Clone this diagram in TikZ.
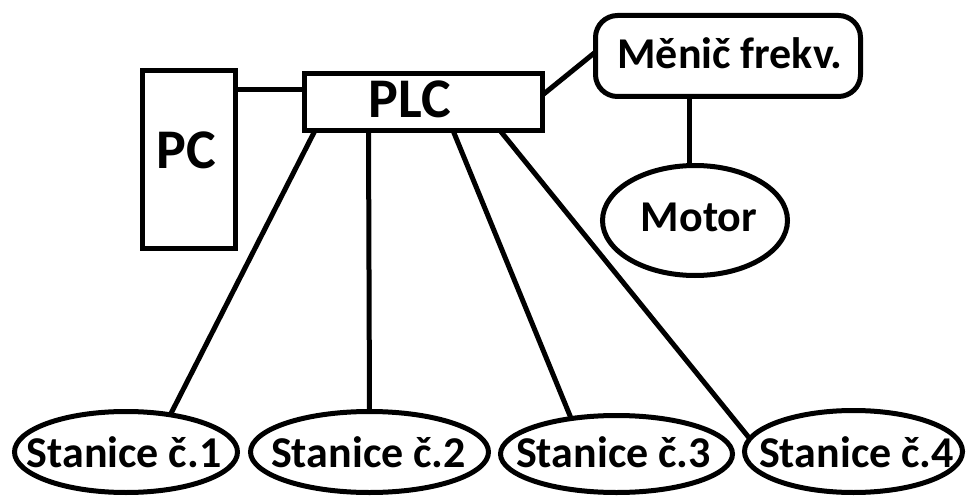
\documentclass[tikz,border=0pt]{standalone}
\usepackage{fontspec}
\setmainfont{Carlito}
\usetikzlibrary{shapes.geometric}
\begin{document}
\begin{tikzpicture}[x=1pt, y=-1pt,
  every node/.style={inner sep=0pt, outer sep=0pt},
  frame/.style={draw, line width=5pt, rectangle},
  roundframe/.style={frame, rounded corners=22pt},
  oval/.style={draw, line width=5pt, ellipse},
  caption/.style={anchor=base, font=\bfseries\fontsize{44}{50}\selectfont},
  bigcaption/.style={anchor=base, font=\bfseries\fontsize{56}{62}\selectfont},
  wire/.style={line width=5pt}]

% canvas
\fill[white] (0,0) rectangle (966,497);
\useasboundingbox (0,0) rectangle (966,497);

% boxes
\node[frame, minimum width=92.5pt, minimum height=177pt] (pc) at (188.75,159.5) {};
\node[frame, minimum width=238pt, minimum height=57pt] (plc) at (423.5,102) {};
\node[roundframe, minimum width=265pt, minimum height=81pt] (men) at (728,56) {};
\node[oval, minimum width=185pt, minimum height=110pt] (mot) at (695,220.5) {};

% stations
\node[oval, minimum width=223pt, minimum height=81pt] (st1) at (126,452) {};
\node[oval, minimum width=238pt, minimum height=81pt] (st2) at (369.5,452) {};
\node[oval, minimum width=232pt, minimum height=77pt] (st3) at (616.5,454) {};
\node[oval, minimum width=218pt, minimum height=82pt] (st4) at (853.5,451.5) {};

% labels (placed by baseline)
\node[bigcaption] (pctext) at (186,169) {PC};
\node[bigcaption] (plctext) at (410,118) {PLC};
\node[caption] (mentext) at (730,69) {Měnič frekv.};
\node[caption] (mottext) at (699,232) {Motor};
\node[caption] (st1text) at (124,467) {Stanice č.1};
\node[caption] (st2text) at (368.5,467) {Stanice č.2};
\node[caption] (st3text) at (613.5,467) {Stanice č.3};
\node[caption] (st4text) at (856.5,467) {Stanice č.4};

% connections
\coordinate (pcport) at ([yshift=-19pt]pc.north east);
\draw[wire] (pcport) -- (pcport -| plc.west);
\draw[wire] ([yshift=7pt]plc.east) -- ([yshift=4pt]men.west);
\coordinate (drive) at ([xshift=-39pt]men.south);
\draw[wire] (drive) -- (drive |- mot.north);
\draw[wire] ([xshift=10.5pt]plc.south west) -- (st1.40);
\draw[wire] ([xshift=-55pt]plc.south) -- (st2.north);
\draw[wire] ([xshift=29.5pt]plc.south) -- (st3.142);
\draw[wire] ([xshift=76.5pt]plc.south) -- (st4.173);
\end{tikzpicture}
\end{document}
